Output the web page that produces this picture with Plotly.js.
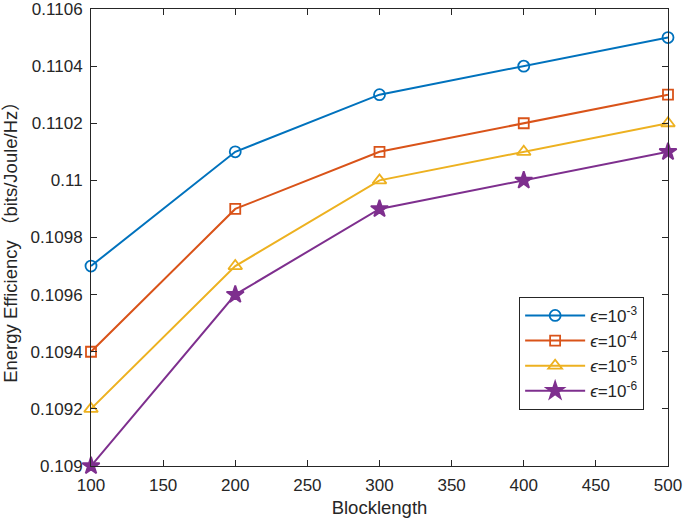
<!DOCTYPE html>
<html>
<head>
<meta charset="utf-8">
<script src="https://cdn.plot.ly/plotly-3.0.1.min.js"></script>
<style>
  html, body { margin: 0; padding: 0; background: #fff; }
  #plot { width: 685px; height: 527px; }
</style>
</head>
<body>
<div id="plot"></div>
<script>
// Blocklength values
const blocklength = [100, 200, 300, 400, 500];

// energy efficiency for each epsilon
const eps3 = [0.1097, 0.1101, 0.1103, 0.1104, 0.1105];
const eps4 = [0.1094, 0.1099, 0.1101, 0.1102, 0.1103];
const eps5 = [0.1092, 0.1097, 0.1100, 0.1101, 0.1102];
const eps6 = [0.1090, 0.1096, 0.1099, 0.1100, 0.1101];

const seriesNames = ['-3', '-4', '-5', '-6'];
const yTicks = [0.109, 0.1092, 0.1094, 0.1096, 0.1098, 0.11, 0.1102, 0.1104, 0.1106];
const yTickText = ['0.109', '0.1092', '0.1094', '0.1096', '0.1098', '0.11', '0.1102', '0.1104', '0.1106'];

const colors = ['#0072BD', '#D95319', '#EDB120', '#7E2F8E'];
const symbols = ['circle-open', 'square-open', 'triangle-up-open', 'star'];
const sizes = [11, 10, 12, 13];
const ys = [eps3, eps4, eps5, eps6];

const traces = ys.map((y, i) => ({
  x: blocklength,
  y: y,
  type: 'scatter',
  mode: 'lines+markers',
  name: '<i>ϵ</i>=10<sup>' + seriesNames[i] + '</sup>',
  line: { color: colors[i], width: 2 },
  marker: {
    symbol: symbols[i],
    size: sizes[i],
    color: colors[i],
    line: { color: colors[i], width: 1.8 }
  },
  cliponaxis: false
}));

const axisCommon = {
  showgrid: false,
  zeroline: false,
  showline: true,
  linecolor: '#262626',
  linewidth: 1,
  mirror: 'ticks',
  ticks: 'inside',
  ticklen: 6,
  tickcolor: '#262626',
  ticklabeloverflow: 'allow',
  tickfont: { family: 'Liberation Sans, Arial, sans-serif', size: 17, color: '#262626' }
};

const layout = {
  width: 685,
  height: 527,
  margin: { l: 91, r: 17, t: 9, b: 61 },
  paper_bgcolor: '#fff',
  plot_bgcolor: '#fff',
  font: { family: 'Liberation Sans, Arial, sans-serif', color: '#262626' },
  xaxis: Object.assign({}, axisCommon, {
    range: [100, 500],
    tickvals: [100, 150, 200, 250, 300, 350, 400, 450, 500],
    ticklabelstandoff: 4,
    title: { text: 'Blocklength', font: { size: 18.5 }, standoff: 6 }
  }),
  yaxis: Object.assign({}, axisCommon, {
    range: [0.109, 0.1106],
    tickvals: yTicks,
    ticktext: yTickText,
    ticklabelstandoff: 4,
    automargin: false,
    title: { text: 'Energy Efficiency （bits/Joule/Hz）', font: { size: 18.5, family: 'Liberation Sans, Noto Sans CJK SC, sans-serif' }, standoff: 8 }
  }),
  showlegend: true,
  legend: {
    x: 0.742,
    y: 0.37,
    xanchor: 'left',
    yanchor: 'top',
    bgcolor: '#fff',
    bordercolor: '#262626',
    borderwidth: 1,
    font: { size: 17, family: 'Liberation Sans, Arial, sans-serif', color: '#262626' },
    itemwidth: 60,
    tracegroupgap: 2
  }
};

Plotly.newPlot('plot', traces, layout, { displayModeBar: false, staticPlot: true });
</script>
</body>
</html>
